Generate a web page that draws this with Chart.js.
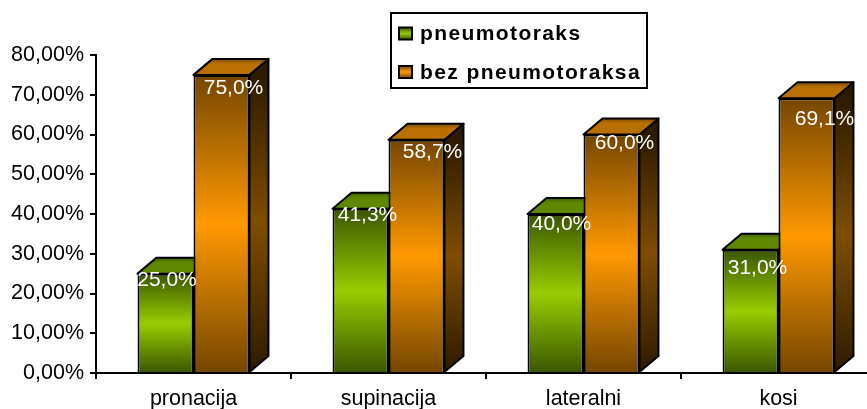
<!DOCTYPE html>
<html><head><meta charset="utf-8">
<style>html,body{margin:0;padding:0;background:#fff;overflow:hidden}#w{width:867px;height:409px;overflow:hidden;position:relative}#w canvas{display:block}</style>
<script src="https://cdn.jsdelivr.net/npm/chart.js@4"></script></head>
<body><div id="w"><canvas id="c" width="880" height="409" style="width:880px;height:409px"></canvas></div>
<script>
const categories=['pronacija','supinacija','lateralni','kosi'];
const pneumotoraks=[25.0,41.3,40.0,31.0];
const bezPneumotoraksa=[75.0,58.7,60.0,69.1];
const seriesNames=['pneumotoraks','bez pneumotoraksa'];
const labelNudgeX=[[1.5,7,6,7],[12,16,13,18]];
const labelNudgeY=[[7,6,10,18],[13,13,9,21]];
const FONT='"Liberation Sans",Arial,sans-serif';
const palette=[
 {dark:'#3a5600',mid:'#99cc00',sideDark:'#1e2e00',sideMid:'#4d6600',top:'#5f8800',topBack:'#3f5f00'},
 {dark:'#744600',mid:'#ff9900',sideDark:'#2c1b00',sideMid:'#7f4d00',top:'#b87000',topBack:'#7f4d00'}
];
const DX=19,DY=16;
function grad(ctx,y0,y1,a,b){const g=ctx.createLinearGradient(0,y0,0,y1);g.addColorStop(0,a);g.addColorStop(.5,b);g.addColorStop(1,a);return g;}
const threeD={id:'threeD',beforeDatasetsDraw(chart){
 const ctx=chart.ctx;ctx.save();ctx.strokeStyle='#000';ctx.lineWidth=2;ctx.lineJoin='round';
 chart.data.datasets.forEach((ds,i)=>{const p=palette[i];
  chart.getDatasetMeta(i).data.forEach(b=>{
   const L=b.x-b.width/2,R=b.x+b.width/2,T=b.y,B=b.base;
   ctx.beginPath();ctx.moveTo(R,T);ctx.lineTo(R+DX,T-DY);ctx.lineTo(R+DX,B-DY);ctx.lineTo(R,B);ctx.closePath();
   ctx.fillStyle=grad(ctx,T,B,p.sideDark,p.sideMid);ctx.fill();ctx.stroke();
   ctx.beginPath();ctx.moveTo(L,T);ctx.lineTo(L+DX,T-DY);ctx.lineTo(R+DX,T-DY);ctx.lineTo(R,T);ctx.closePath();
   const g=ctx.createLinearGradient(0,T-DY,0,T);g.addColorStop(0,p.topBack);g.addColorStop(.3,p.top);g.addColorStop(1,p.top);
   ctx.fillStyle=g;ctx.fill();ctx.stroke();
  });
 });ctx.restore();
},afterDatasetsDraw(chart){
 const ctx=chart.ctx;ctx.save();ctx.fillStyle='#fff';ctx.font='21px '+FONT;ctx.textAlign='center';ctx.textBaseline='middle';
 chart.data.datasets.forEach((ds,i)=>{chart.getDatasetMeta(i).data.forEach((b,j)=>{
  ctx.fillText(ds.data[j].toFixed(1).replace('.',',')+'%',b.x+labelNudgeX[i][j],b.y+labelNudgeY[i][j]);
 });});
 ctx.restore();
 ctx.save();ctx.fillStyle='#fff';ctx.strokeStyle='#000';ctx.lineWidth=2;
 ctx.fillRect(391,13,256,75);ctx.strokeRect(391,13,256,75);
 ctx.font='bold 21px '+FONT;ctx.textBaseline='middle';ctx.textAlign='left';
 if('letterSpacing' in ctx)ctx.letterSpacing='1.4px';
 seriesNames.forEach((n,i)=>{const y=33.5+i*38.5;
  const g=ctx.createLinearGradient(0,y-6,0,y+6);g.addColorStop(0,palette[i].dark);g.addColorStop(.5,palette[i].mid);g.addColorStop(1,palette[i].dark);
  ctx.fillStyle=g;ctx.fillRect(399,y-6,13,12);ctx.strokeRect(399,y-6,13,12);
  ctx.fillStyle='#000';ctx.fillText(n,420,y+1);
 });ctx.restore();
}};
function fill(i){return c=>{const {chart,element}=c;
 if(!chart.chartArea||!element)return palette[i].mid;
 const v=c.raw,sc=chart.scales.y;
 return grad(chart.ctx,sc.getPixelForValue(v),sc.getPixelForValue(0),palette[i].dark,palette[i].mid);};}
new Chart(document.getElementById('c'),{type:'bar',plugins:[threeD],
 data:{labels:categories,datasets:[
  {label:seriesNames[0],data:pneumotoraks,backgroundColor:fill(0),borderColor:'#000',borderWidth:2},
  {label:seriesNames[1],data:bezPneumotoraksa,backgroundColor:fill(1),borderColor:'#000',borderWidth:2}]},
 options:{responsive:false,animation:false,
  layout:{padding:{top:55,right:4,left:0,bottom:0}},
  categoryPercentage:.574,barPercentage:1,
  plugins:{legend:{display:false},tooltip:{enabled:false}},
  scales:{
   x:{grid:{drawOnChartArea:false,color:'#000',lineWidth:2,tickLength:6,offset:true},border:{color:'#000',width:2},
      ticks:{color:'#000',font:{family:FONT,size:21.5},padding:7,maxRotation:0},afterFit(s){s.height=36;}},
   y:{min:0,max:80,grid:{drawOnChartArea:false,color:'#000',lineWidth:2,tickLength:6},border:{color:'#000',width:2},
      ticks:{stepSize:10,color:'#000',font:{family:FONT,size:21.5},padding:6,callback:v=>v.toFixed(2).replace('.',',')+'%'},afterFit(s){s.width=96;}}
  }}});
</script></body></html>
